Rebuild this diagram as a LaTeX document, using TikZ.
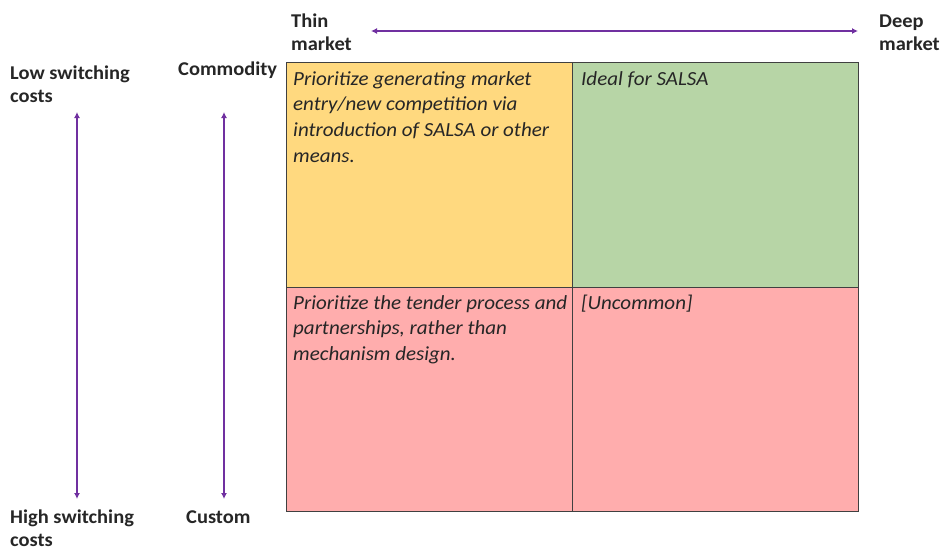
\documentclass[tikz,border=0pt]{standalone}
\usepackage{fontspec}
\setmainfont[FakeStretch=1.05]{Carlito}
\usetikzlibrary{arrows.meta}
\definecolor{cyellow}{HTML}{FFD97F}
\definecolor{cgreen}{HTML}{B7D5A6}
\definecolor{cpink}{HTML}{FFADAD}
\definecolor{cpurple}{HTML}{7030A0}
\definecolor{cborder}{HTML}{404040}
\definecolor{ctext}{HTML}{262626}
\newcommand\lns[1]{\vtop{\halign{##\hfil\cr#1\crcr}}}
\tikzset{
  cell/.style={draw=cborder, line width=1.3pt, anchor=north west, inner sep=0pt,
    minimum width=286pt, minimum height=224.5pt},
  lbl/.style={anchor=base west, inner sep=0pt, text=ctext,
    font=\fontsize{19.5}{23}\selectfont\bfseries},
  ctxt/.style={anchor=base west, inner sep=0pt, text=ctext,
    font=\fontsize{20}{25.7}\selectfont\itshape},
  axis/.style={draw=cpurple, line width=2pt, {Latex[length=6pt,width=6pt]}-{Latex[length=6pt,width=6pt]}}
}
\begin{document}
\begin{tikzpicture}[x=1pt,y=-1pt]
\useasboundingbox (0,0) rectangle (940,550);
% cells
\node[cell, fill=cyellow] (tl) at (286,62) {};
\node[cell, fill=cgreen] (tr) at (572,62) {};
\node[cell, fill=cpink] (bl) at (286,286.5) {};
\node[cell, fill=cpink] (br) at (572,286.5) {};
% cell texts
\node[ctxt] (tltext) at (293,85) {\lns{Prioritize generating market\cr entry/new competition via\cr introduction of SALSA or other\cr means.}};
\node[ctxt] (trtext) at (581,85) {Ideal for SALSA};
\node[ctxt] (bltext) at (293,309) {\lns{Prioritize the tender process and\cr partnerships, rather than\cr mechanism design.}};
\node[ctxt] (brtext) at (581,309) {[Uncommon]};
% labels
\node[lbl] (thin) at (291,27) {\lns{Thin\cr market}};
\node[lbl] (deep) at (879,27) {\lns{Deep\cr market}};
\node[lbl] (low) at (10,79) {\lns{Low switching\cr costs}};
\node[lbl] (comm) at (178,75) {Commodity};
\node[lbl] (high) at (10,523) {\lns{High switching\cr costs}};
\node[lbl] (cust) at (186,523) {Custom};
% axes
\coordinate (hA) at (371,31);
\coordinate (hB) at (858,31);
\coordinate (v1A) at (77,112);
\coordinate (v1B) at (77,499);
\coordinate (v2A) at (224,112);
\coordinate (v2B) at (224,499);
\draw[axis] (hA) -- (hB);
\draw[axis] (v1A) -- (v1B);
\draw[axis] (v2A) -- (v2B);
\end{tikzpicture}
\end{document}
